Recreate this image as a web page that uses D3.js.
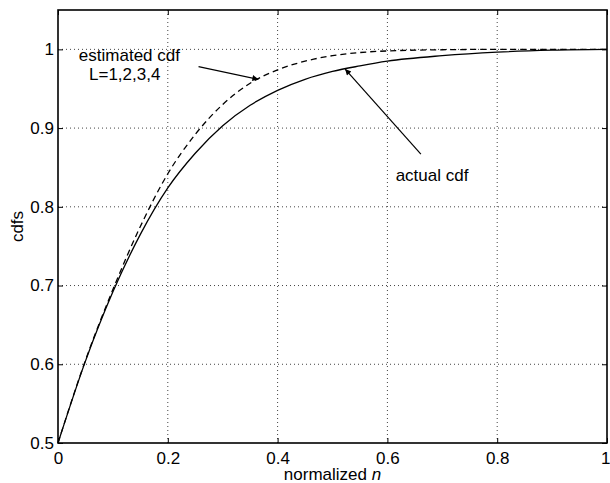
<!DOCTYPE html>
<html>
<head>
<meta charset="utf-8">
<script src="https://cdn.jsdelivr.net/npm/d3@7"></script>
<style>
  body { margin: 0; background: #fff; }
  text { font-family: Arial, "Liberation Sans", Helvetica, sans-serif; }
</style>
</head>
<body>
<div id="chart"></div>
<script>
// values
var xs = [0, 0.05, 0.1, 0.15, 0.2, 0.25, 0.3, 0.35, 0.4, 0.45, 0.5, 0.55, 0.6, 0.7, 0.8, 0.9, 1.0];
var actualCdf = [0.5, 0.604, 0.692, 0.765, 0.824, 0.868, 0.903, 0.929, 0.948, 0.962, 0.972, 0.979, 0.985, 0.992, 0.9965, 0.999, 1.0];
var estimatedCdf = [0.5, 0.605, 0.695, 0.775, 0.842, 0.892, 0.930, 0.957, 0.974, 0.985, 0.992, 0.996, 0.998, 0.9995, 1.0, 1.0, 1.0];
var xTicks = [0, 0.2, 0.4, 0.6, 0.8, 1];
var yTicks = [0.5, 0.6, 0.7, 0.8, 0.9, 1];

// set the specs
var width = 610;
var height = 483;
var marginLeft = 58;
var marginRight = 3;
var marginTop = 10;
var marginBottom = 40;

var svg = d3.select("#chart")
            .append("svg")
            .attr("width", width)
            .attr("height", height);

var xScale = d3.scaleLinear()
    .domain([0, 1])
    .range([marginLeft, width - marginRight]);

var yScale = d3.scaleLinear()
    .domain([0.5, 1.05])
    .range([height - marginBottom, marginTop]);

// arrow head
svg.append("defs").append("marker")
    .attr("id", "arrow")
    .attr("viewBox", "0 0 10 10")
    .attr("refX", 10)
    .attr("refY", 5)
    .attr("markerWidth", 11)
    .attr("markerHeight", 6)
    .attr("markerUnits", "userSpaceOnUse")
    .attr("orient", "auto")
  .append("path")
    .attr("d", "M0,0 L10,5 L0,10 z")
    .attr("fill", "#000");

// grid lines (dotted)
svg.append("g")
  .selectAll("line")
  .data(xTicks.slice(1, -1))
  .enter()
  .append("line")
    .attr("x1", function(d){ return xScale(d); })
    .attr("x2", function(d){ return xScale(d); })
    .attr("y1", yScale(0.5))
    .attr("y2", yScale(1.05))
    .attr("stroke", "#444")
    .attr("stroke-width", 1)
    .attr("stroke-dasharray", "1,3");

svg.append("g")
  .selectAll("line")
  .data(yTicks.slice(1))
  .enter()
  .append("line")
    .attr("x1", xScale(0))
    .attr("x2", xScale(1))
    .attr("y1", function(d){ return yScale(d); })
    .attr("y2", function(d){ return yScale(d); })
    .attr("stroke", "#444")
    .attr("stroke-width", 1)
    .attr("stroke-dasharray", "1,3");

// axes with inward ticks
var xAxis = d3.axisBottom(xScale).tickValues(xTicks).tickSizeInner(-5).tickSizeOuter(0)
    .tickFormat(function(d){ return d; });
var yAxis = d3.axisLeft(yScale).tickValues(yTicks).tickSizeInner(-5).tickSizeOuter(0)
    .tickFormat(function(d){ return d; });
var xTop = d3.axisTop(xScale).tickValues(xTicks).tickSizeInner(-5).tickSizeOuter(0).tickFormat("");
var yRight = d3.axisRight(yScale).tickValues(yTicks).tickSizeInner(-5).tickSizeOuter(0).tickFormat("");

var gx = svg.append("g")
    .attr("transform", "translate(0," + yScale(0.5) + ")")
    .call(xAxis);
gx.selectAll("text").attr("dy", "0.71em").attr("y", 9);
// keep the last label inside the window
gx.selectAll(".tick").filter(function(d){ return d === 1; })
    .select("text").attr("text-anchor", "end").attr("x", 3);

var gy = svg.append("g")
    .attr("transform", "translate(" + xScale(0) + ",0)")
    .call(yAxis);
gy.selectAll("text").attr("x", -4);

svg.append("g")
    .attr("transform", "translate(0," + yScale(1.05) + ")")
    .call(xTop);
svg.append("g")
    .attr("transform", "translate(" + xScale(1) + ",0)")
    .call(yRight);

svg.selectAll(".domain").remove();
svg.selectAll(".tick line").attr("stroke", "#000").attr("stroke-width", 1);
svg.selectAll(".tick text")
    .attr("font-size", 17)
    .attr("font-family", "Arial, 'Liberation Sans', sans-serif")
    .attr("fill", "#000");

// box
svg.append("rect")
    .attr("x", xScale(0))
    .attr("y", yScale(1.05))
    .attr("width", xScale(1) - xScale(0))
    .attr("height", yScale(0.5) - yScale(1.05))
    .attr("fill", "none")
    .attr("stroke", "#000")
    .attr("stroke-width", 1.6);

// curves
var line = d3.line()
    .x(function(d){ return xScale(d[0]); })
    .y(function(d){ return yScale(d[1]); })
    .curve(d3.curveMonotoneX);

svg.append("path")
    .datum(d3.zip(xs, actualCdf))
    .attr("d", line)
    .attr("fill", "none")
    .attr("stroke", "#000")
    .attr("stroke-width", 1.3);

svg.append("path")
    .datum(d3.zip(xs, estimatedCdf))
    .attr("d", line)
    .attr("fill", "none")
    .attr("stroke", "#000")
    .attr("stroke-width", 1.3)
    .attr("stroke-dasharray", "6,4");

// annotations
var arrows = [
  { x1: 0.256, y1: 0.978, x2: 0.365, y2: 0.962 },
  { x1: 0.661, y1: 0.867, x2: 0.523, y2: 0.975 }
];
svg.append("g")
  .selectAll("line")
  .data(arrows)
  .enter()
  .append("line")
    .attr("x1", function(d){ return xScale(d.x1); })
    .attr("y1", function(d){ return yScale(d.y1); })
    .attr("x2", function(d){ return xScale(d.x2); })
    .attr("y2", function(d){ return yScale(d.y2); })
    .attr("stroke", "#000")
    .attr("stroke-width", 1.2)
    .attr("marker-end", "url(#arrow)");

var labels = [
  { text: "estimated cdf", x: 0.038, y: 0.985 },
  { text: "L=1,2,3,4", x: 0.0565, y: 0.961 },
  { text: "actual cdf", x: 0.615, y: 0.833 }
];
svg.append("g")
  .selectAll("text")
  .data(labels)
  .enter()
  .append("text")
    .attr("x", function(d){ return xScale(d.x); })
    .attr("y", function(d){ return yScale(d.y); })
    .attr("font-size", 17)
    .attr("fill", "#000")
    .text(function(d){ return d.text; });

// axis labels
svg.append("text")
    .attr("transform", "translate(23," + (yScale(0.5) + yScale(1.05)) / 2 + ") rotate(-90)")
    .attr("text-anchor", "middle")
    .attr("font-size", 17)
    .text("cdfs");

var xl = svg.append("text")
    .attr("x", (xScale(0) + xScale(1)) / 2)
    .attr("y", 480)
    .attr("text-anchor", "middle")
    .attr("font-size", 17);
xl.append("tspan").text("normalized ");
xl.append("tspan").attr("font-style", "italic").text(" n");
</script>
</body>
</html>
